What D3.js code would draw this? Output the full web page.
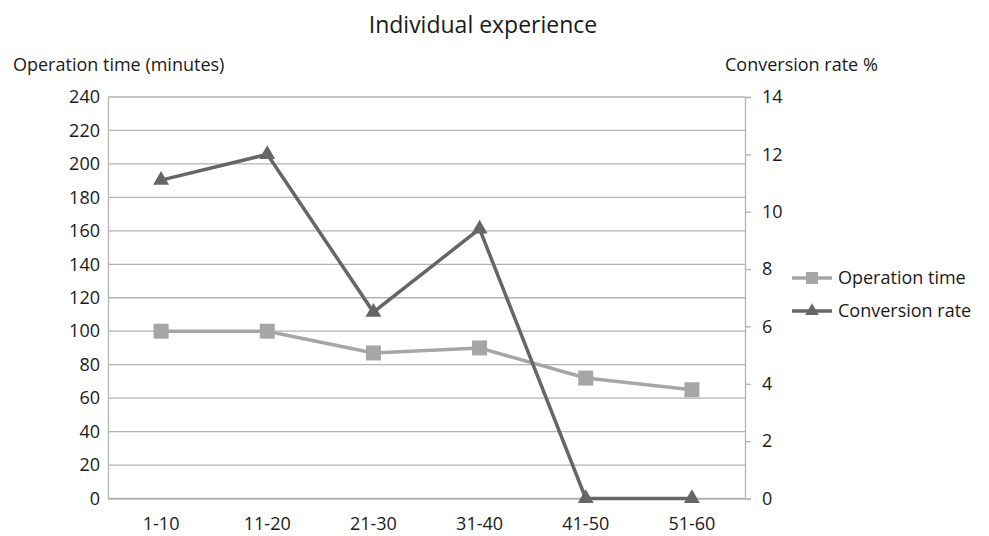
<!DOCTYPE html>
<html><head><meta charset="utf-8">
<script src="https://cdn.jsdelivr.net/npm/d3@7"></script>
<style>body{margin:0;background:#fff}svg{display:block}text{font-family:"Open Sans",sans-serif;fill:#1a1a1a}</style>
</head><body><svg id="c" width="989" height="536"></svg>
<script>
const categories = ["1-10","11-20","21-30","31-40","41-50","51-60"];
const operationTime = [100,100,87,90,72,65];
const conversionRate = [11.1,12.0,6.5,9.4,0,0];
const leftTicks = [0,20,40,60,80,100,120,140,160,180,200,220,240];
const rightTicks = [0,2,4,6,8,10,12,14];

const svg = d3.select("#c");
const L=108, R=745, T=97, B=498.5;
const x = d3.scaleBand().domain(categories).range([L,R]);
const yL = d3.scaleLinear().domain([0,240]).range([B,T]);
const yR = d3.scaleLinear().domain([0,14]).range([B,T]);
const grid="#b3b3b3";
const fs = 18;

// gridlines
svg.append("g").selectAll("line").data(leftTicks).join("line")
  .attr("x1",L).attr("x2",R).attr("y1",d=>yL(d)).attr("y2",d=>yL(d))
  .attr("stroke",grid).attr("stroke-width",1.3);

// left axis
const gl = svg.append("g").attr("transform",`translate(${L},0)`)
  .call(d3.axisLeft(yL).tickValues(leftTicks).tickSize(0).tickPadding(8));
gl.select(".domain").attr("stroke",grid).attr("stroke-width",1.3);
gl.selectAll("text").attr("font-size",fs).style("fill","#1a1a1a");

// right axis
const gr = svg.append("g").attr("transform",`translate(${R},0)`)
  .call(d3.axisRight(yR).tickValues(rightTicks).tickSize(6).tickPadding(11));
gr.select(".domain").attr("stroke",grid).attr("stroke-width",1.3);
gr.selectAll(".tick line").attr("stroke",grid).attr("stroke-width",1.3);
gr.selectAll("text").attr("font-size",fs).style("fill","#1a1a1a");

// bottom axis
const gb = svg.append("g").attr("transform",`translate(0,${B})`)
  .call(d3.axisBottom(x).tickSize(0).tickPadding(19));
gb.select(".domain").attr("stroke",grid).attr("stroke-width",1.3);
gb.selectAll("text").attr("font-size",fs).style("fill","#1a1a1a");

const cx = d => x(d)+x.bandwidth()/2;
const c1="#a6a6a6", c2="#666666";

// operation time line
svg.append("path").datum(operationTime)
  .attr("d", d3.line().x((d,i)=>cx(categories[i])).y(d=>yL(d)))
  .attr("fill","none").attr("stroke",c1).attr("stroke-width",3.5);
svg.append("g").selectAll("rect").data(operationTime).join("rect")
  .attr("x",(d,i)=>cx(categories[i])-7.5).attr("y",d=>yL(d)-7.5)
  .attr("width",15).attr("height",15).attr("fill",c1);

// conversion rate line
svg.append("path").datum(conversionRate)
  .attr("d", d3.line().x((d,i)=>cx(categories[i])).y(d=>yR(d)))
  .attr("fill","none").attr("stroke",c2).attr("stroke-width",3.5);
const tri = d3.symbol().type(d3.symbolTriangle).size(110);
svg.append("g").selectAll("path").data(conversionRate).join("path")
  .attr("transform",(d,i)=>`translate(${cx(categories[i])},${yR(d)})`)
  .attr("d",tri).attr("fill",c2);

// titles
svg.append("text").attr("x",483).attr("y",33).attr("text-anchor","middle").attr("font-size",23).text("Individual experience");
svg.append("text").attr("x",13).attr("y",71).attr("font-size",fs).text("Operation time (minutes)");
svg.append("text").attr("x",725).attr("y",71).attr("font-size",fs).text("Conversion rate %");

// legend
const leg = [{n:"Operation time",c:c1,s:"sq"},{n:"Conversion rate",c:c2,s:"tri"}];
leg.forEach((l,i)=>{
  const y = 278 + i*33;
  svg.append("line").attr("x1",792).attr("x2",832).attr("y1",y).attr("y2",y).attr("stroke",l.c).attr("stroke-width",3.5);
  if(l.s==="sq") svg.append("rect").attr("x",806).attr("y",y-6).attr("width",12).attr("height",12).attr("fill",l.c);
  else svg.append("path").attr("transform",`translate(812,${y})`).attr("d",d3.symbol().type(d3.symbolTriangle).size(80)).attr("fill",l.c);
  svg.append("text").attr("x",838).attr("y",y+6).attr("font-size",fs).text(l.n);
});
</script></body></html>
